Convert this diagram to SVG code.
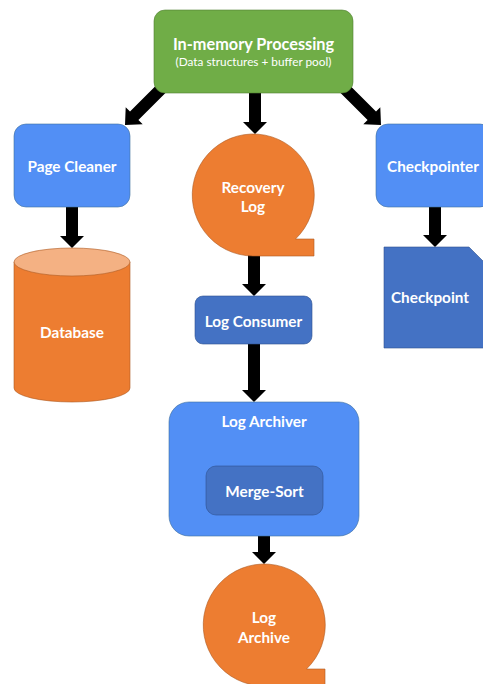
<svg xmlns="http://www.w3.org/2000/svg" width="483" height="684" viewBox="0 0 483 684">
<style>
.t{font-family:Lato,"Open Sans","Liberation Sans",sans-serif;font-weight:bold;fill:#fff;text-anchor:middle;font-size:15.3px}
.s{font-family:Lato,"Open Sans","Liberation Sans",sans-serif;fill:#fff;text-anchor:middle}
.lb{fill:#528FF5;stroke:#41719C;stroke-width:1;stroke-opacity:0.6}
.db{fill:#4472C4;stroke:#2F528F;stroke-width:1;stroke-opacity:0.6}
.or{fill:#ED7D31;stroke:#AE5A21;stroke-width:1;stroke-opacity:0.6}
.ar{fill:#000}
</style>
<rect width="483" height="684" fill="#fff"/>
<g id="connectors">
<polygon class="ar" points="158.8,82.8 130,111.6 125.7,107.3 125,125 142.7,124.3 138.4,120 167.2,91.2"/>
<polygon class="ar" points="347.2,82.8 376,111.6 380.3,107.3 381,125 363.3,124.3 367.6,120 338.8,91.2"/>
<polygon class="ar" points="249,90 261,90 261,122 267,122 255,134 243,122 249,122"/>
<polygon class="ar" points="66,205 78,205 78,236 84,236 72,248 60,236 66,236"/>
<polygon class="ar" points="429,205 441,205 441,235 447,235 435,247 423,235 429,235"/>
<polygon class="ar" points="248,254 260,254 260,284 266,284 254,296 242,284 248,284"/>
<polygon class="ar" points="248,342 260,342 260,390 266,390 254,402 242,390 248,390"/>
<polygon class="ar" points="258,534 270,534 270,552 276,552 264,564 252,552 258,552"/>
</g>
<g id="inmemory">
<rect x="154" y="10" width="199" height="83" rx="11" fill="#70AD47" stroke="#507E32" stroke-width="1" stroke-opacity="0.6"/>
<text class="t" x="253.5" y="50" style="font-size:16.3px">In-memory Processing</text>
<text class="s" x="253.5" y="66" font-size="11.8">(Data structures + buffer pool)</text>
</g>
<g id="pagecleaner">
<rect class="lb" x="14" y="124" width="116" height="83" rx="12"/>
<text class="t" x="72" y="172">Page Cleaner</text>
</g>
<g id="database">
<path class="or" d="M14,262 L14,388 A58,14 0 0,0 130,388 L130,262 Z"/>
<ellipse cx="72" cy="262" rx="58" ry="14" fill="#F4B183" stroke="#AE5A21" stroke-width="1" stroke-opacity="0.6"/>
<text class="t" x="72" y="338">Database</text>
</g>
<g id="recoverylog">
<path class="or" d="M253,256 L314,256 L314,239 L295.5,239 A61,61 0 1,0 253,256 Z"/>
<text class="t" x="253" y="193">Recovery</text>
<text class="t" x="253" y="212">Log</text>
</g>
<g id="checkpointer">
<rect class="lb" x="376" y="124" width="116" height="83" rx="12"/>
<text class="t" x="433" y="172">Checkpointer</text>
</g>
<g id="checkpoint">
<path class="db" d="M384,247 L469,247 L495,273 L495,348 L384,348 Z"/>
<text class="t" x="430" y="303">Checkpoint</text>
</g>
<g id="logconsumer">
<rect class="db" x="195" y="296" width="117" height="48" rx="8"/>
<text class="t" x="253.5" y="327">Log Consumer</text>
</g>
<g id="logarchiver">
<rect class="lb" x="169" y="402" width="190" height="134" rx="20"/>
<text class="t" x="264" y="427">Log Archiver</text>
</g>
<g id="mergesort">
<rect class="db" x="206" y="466" width="117" height="49" rx="10"/>
<text class="t" x="264.5" y="497">Merge-Sort</text>
</g>
<g id="logarchive">
<path class="or" d="M264,686 L325,686 L325,669 L306.5,669 A61,61 0 1,0 264,686 Z"/>
<text class="t" x="264" y="623">Log</text>
<text class="t" x="264" y="643">Archive</text>
</g>
</svg>
